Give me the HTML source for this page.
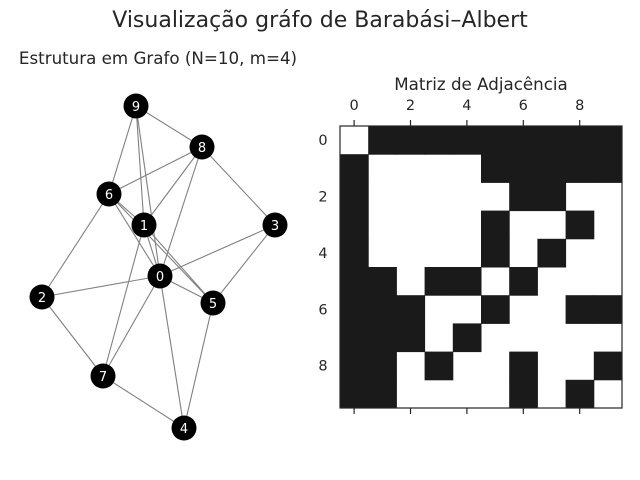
<!DOCTYPE html>
<html><head><style>body{margin:0;background:#fff}svg{display:block}text{font-family:"DejaVu Sans","Liberation Sans",sans-serif;fill:#262626}</style></head><body>
<svg width="640" height="480" viewBox="0 0 640 480" xmlns="http://www.w3.org/2000/svg">
<text x="320" y="27" font-size="22" text-anchor="middle">Visualização gráfo de Barabási–Albert</text>
<text x="158" y="64" font-size="16.7" text-anchor="middle">Estrutura em Grafo (N=10, m=4)</text>
<text x="481" y="90" font-size="16.7" text-anchor="middle">Matriz de Adjacência</text>
<g stroke="#808080" stroke-width="1.1" id="edges"></g>
<g id="nodes"></g>
<g id="mat"></g>
<rect x="340" y="126" width="282" height="282" fill="none" stroke="#262626" stroke-width="1.2"/>
<g id="ticks" stroke="#262626" stroke-width="1.2"></g>
</svg>
<script>
var P={0:[160,276],1:[144,225],2:[42,297],3:[275,225],4:[184,428],5:[213,303],6:[109,194],7:[103,376],8:[202,147],9:[136,106]};
var A={0:[1,2,3,4,5,6,7,8,9],1:[0,5,6,7,8,9],2:[0,6,7],3:[0,5,8],4:[0,5,7],5:[0,1,3,4,6],6:[0,1,2,5,8,9],7:[0,1,2,4],8:[0,1,3,6,9],9:[0,1,6,8]};
var ns="http://www.w3.org/2000/svg";
function el(t,a,p){var e=document.createElementNS(ns,t);for(var k in a)e.setAttribute(k,a[k]);p.appendChild(e);return e;}
var E=document.getElementById('edges'),N=document.getElementById('nodes'),M=document.getElementById('mat'),T=document.getElementById('ticks');
for(var i in A)A[i].forEach(function(j){if(+j>+i)el('line',{x1:P[i][0],y1:P[i][1],x2:P[j][0],y2:P[j][1]},E);});
for(var i in P){el('circle',{cx:P[i][0],cy:P[i][1],r:12.5,fill:'#000'},N);var t=el('text',{x:P[i][0],y:P[i][1]+5,'font-size':13,'text-anchor':'middle',style:'fill:#fff'},N);t.textContent=i;}
var c=28.2;
for(var i=0;i<10;i++)for(var j=0;j<10;j++)if(A[i].indexOf(j)>=0)el('rect',{x:340+j*c,y:126+i*c,width:c+0.5,height:c+0.5,fill:'#1a1a1a'},M);
for(var k=0;k<10;k+=2){var x=340+c*(k+0.5);el('line',{x1:x,y1:120,x2:x,y2:126},T);el('line',{x1:x,y1:408,x2:x,y2:414},T);
var t=el('text',{x:x,y:110,'font-size':14.5,'text-anchor':'middle'},M.parentNode);t.textContent=k;
var y=126+c*(k+0.5);var t2=el('text',{x:323,y:y+5,'font-size':14.5,'text-anchor':'middle'},M.parentNode);t2.textContent=k;}
</script>
</body></html>
